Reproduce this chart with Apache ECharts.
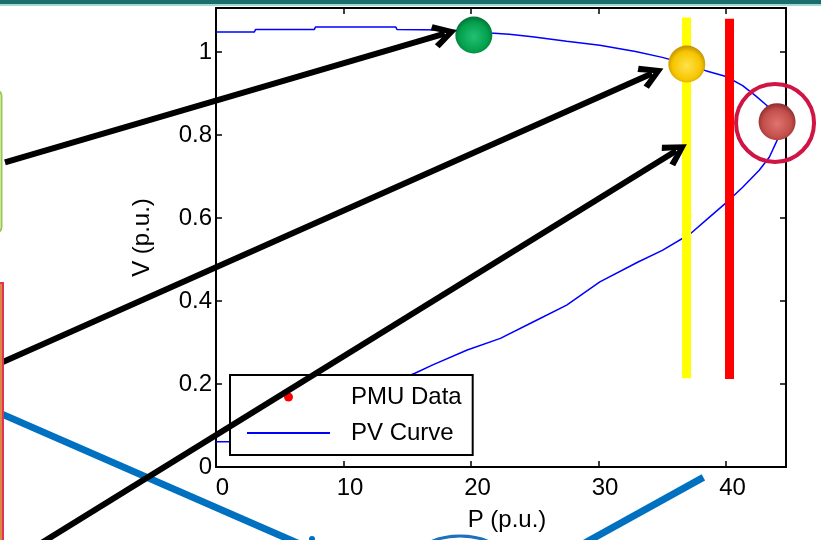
<!DOCTYPE html>
<html>
<head>
<meta charset="utf-8">
<title>PV curve</title>
<script src="https://cdn.jsdelivr.net/npm/echarts@6/dist/echarts.min.js"></script>
<style>
  html, body { margin: 0; padding: 0; background: #fff; }
  #chart { width: 821px; height: 540px; }
</style>
</head>
<body>
<div id="chart"></div>
<script>
// PV curve, walked along the upper branch, round the nose, back down the lower branch
var pvP = [0, 3.0, 3.1, 7.7, 7.8, 14.1, 14.2, 18.0, 20.0, 21.5,
           23.0, 24.8, 27.5, 30.1, 32.9, 35.0, 36.9, 38.4, 40.0, 41.3,
           42.3, 43.2, 43.8, 44.05, 44.0, 43.4, 42.6, 41.3, 40.2, 38.7,
           37.2, 35.0, 33.1, 30.1, 27.5, 24.9, 22.3, 19.7, 17.0, 15.6,
           12.0, 8.0, 4.0, 1.1, 0];
var pvV = [1.048, 1.048, 1.054, 1.054, 1.060, 1.060, 1.054, 1.053, 1.050, 1.046,
           1.043, 1.037, 1.026, 1.016, 1.001, 0.987, 0.971, 0.955, 0.941, 0.919,
           0.895, 0.871, 0.845, 0.81, 0.787, 0.747, 0.715, 0.674, 0.642, 0.602,
           0.562, 0.522, 0.494, 0.446, 0.390, 0.350, 0.310, 0.282, 0.246, 0.226,
           0.18, 0.14, 0.10, 0.061, 0.061];

// PMU data points (the three balls)
var pmuP = [20.22, 36.92, 44.0];
var pmuV = [1.041, 0.971, 0.832];

// axis extents
var xMax = 44.7;
var yMax = 1.106;

// vertical limit bars (yellow, red)
var limitP = [36.9, 40.27];
var limitTop = [1.083, 1.080];
var limitBottom = [0.214, 0.212];

// annotation arrows and stripes, in P / V units
var arrowFrom = [[-16.55, 0.734], [-16.94, 0.250], [-15.37, -0.215]];
var arrowTo = [[17.94, 1.044], [34.19, 0.948], [36.09, 0.762]];
var stripeFrom = [[-17.73, 0.140], [38.22, -0.025]];
var stripeTo = [[6.6, -0.186], [28.16, -0.196]];
var ringP = 43.84;
var ringV = 0.829;

var FONT = 'Liberation Sans';
var chart = echarts.init(document.getElementById('chart'));

function ball(light, mid, dark) {
    return {
        type: 'radial', x: 0.5, y: 0.55, r: 0.55,
        colorStops: [
            { offset: 0, color: light },
            { offset: 0.7, color: mid },
            { offset: 1, color: dark }
        ]
    };
}
var ballColors = [
    ball('#22c173', '#03a04d', '#037037'),
    ball('#ffe24a', '#f6c500', '#c08e00'),
    ball('#df7470', '#c24e4a', '#8a2d2a')
];

var pvData = pvP.map(function (p, i) { return [p, pvV[i]]; });
var pmuData = pmuP.map(function (p, i) {
    return { value: [p, pmuV[i]], itemStyle: { color: ballColors[i], opacity: 1 } };
});
var limitColors = ['#ffff00', '#ff0000'];
var limitSeries = limitP.map(function (p, i) {
    return {
        type: 'line',
        data: [[p, limitTop[i]], [p, limitBottom[i]]],
        symbol: 'none',
        silent: true,
        clip: false,
        z: 3,
        lineStyle: { color: limitColors[i], width: 9, cap: 'butt', opacity: 1 }
    };
});

var chevron = 'path://M11 0 L22 21.5 L17.5 25 L11 11 L4.5 25 L0 21.5 Z';

var axisCommon = {
    type: 'value',
    splitLine: { show: false },
    axisLine: { show: true, onZero: false, lineStyle: { color: '#000', width: 2 } },
    axisTick: { show: true, inside: true, length: 6, lineStyle: { color: '#000', width: 1.5 } }
};

var option = {
    animation: false,
    backgroundColor: '#fff',
    grid: { left: 216, right: 35, top: 8, bottom: 73, outerBoundsMode: 'none' },
    xAxis: [
        Object.assign({}, axisCommon, {
            position: 'bottom', min: 0, max: xMax, interval: 10,
            axisLabel: {
                show: true, showMaxLabel: false, margin: 9, padding: [0, 0, 0, 13],
                fontFamily: FONT, fontSize: 24, color: '#000'
            },
            name: 'P (p.u.)', nameLocation: 'middle', nameGap: 41,
            nameTextStyle: { fontFamily: FONT, fontSize: 24, color: '#000', padding: [0, 0, 0, 12] }
        }),
        Object.assign({}, axisCommon, {
            position: 'top', min: 0, max: xMax, interval: 10,
            axisLabel: { show: false }
        })
    ],
    yAxis: [
        Object.assign({}, axisCommon, {
            position: 'left', min: 0, max: yMax, interval: 0.2,
            axisLabel: {
                show: true, showMaxLabel: false, margin: 4,
                fontFamily: FONT, fontSize: 24, color: '#000'
            },
            name: 'V (p.u.)', nameLocation: 'middle', nameGap: 62,
            nameTextStyle: { fontFamily: FONT, fontSize: 24, color: '#000' }
        }),
        Object.assign({}, axisCommon, {
            position: 'right', min: 0, max: yMax, interval: 0.2,
            axisLabel: { show: false }
        })
    ],
    legend: {
        left: 230, top: 375,
        orient: 'vertical',
        data: [
            { name: 'PMU Data', icon: 'circle', itemStyle: { color: '#ff0000', opacity: 1 } },
            { name: 'PV Curve', itemStyle: { color: 'rgba(0,0,0,0)', borderWidth: 0, opacity: 0 } }
        ],
        itemWidth: 83, itemHeight: 9, itemGap: 12,
        padding: [10, 11, 10, 16],
        backgroundColor: '#fff',
        borderColor: '#000', borderWidth: 2, borderRadius: 0,
        textStyle: { fontFamily: FONT, fontSize: 24, color: '#000', padding: [0, 0, 0, 16] }
    },
    graphic: [
        { type: 'rect', shape: { x: 0, y: 0, width: 821, height: 4 }, style: { fill: '#1c6c6c' }, z: 100 },
        { type: 'rect', shape: { x: 0, y: 4, width: 821, height: 2 }, style: { fill: '#a3d6d6' }, z: 100 },
        { type: 'rect', shape: { x: -40, y: 90, width: 41.5, height: 143, r: 6 },
          style: { fill: '#fff', stroke: '#9bc84f', lineWidth: 2 }, z: 100 },
        { type: 'rect', shape: { x: -40, y: 283, width: 43, height: 300 },
          style: { fill: '#d98a3c', stroke: '#e2315a', lineWidth: 2 }, z: 100 },
        { type: 'ellipse', shape: { cx: 460, cy: 557, rx: 42, ry: 21 },
          style: { fill: 'none', stroke: '#1f6fbf', lineWidth: 3 }, z: 100 },
        { type: 'circle', shape: { cx: 312, cy: 539, r: 3 }, style: { fill: '#0070c0' }, z: 100 }
    ],
    series: [
        {
            name: 'PV Curve',
            type: 'line',
            data: pvData,
            symbol: 'none',
            z: 2,
            lineStyle: { color: '#0000ff', width: 1.5 },
            itemStyle: { color: '#0000ff' }
        },
        {
            name: 'PMU Data',
            type: 'scatter',
            data: pmuData,
            symbol: 'circle',
            symbolSize: 37,
            clip: false,
            z: 6,
            itemStyle: { color: '#ff0000', opacity: 1 }
        }
    ].concat(limitSeries).concat([
        {
            type: 'scatter',
            data: [[ringP, ringV]],
            symbol: 'circle',
            symbolSize: 78,
            clip: false,
            silent: true,
            z: 7,
            itemStyle: { color: 'rgba(0,0,0,0)', borderColor: '#d01545', borderWidth: 4, opacity: 1 }
        },
        {
            type: 'lines',
            coordinateSystem: 'cartesian2d',
            data: stripeFrom.map(function (s, i) { return { coords: [s, stripeTo[i]] }; }),
            clip: false,
            silent: true,
            z: 9,
            symbol: ['none', 'none'],
            lineStyle: { color: '#0070c0', width: 7, opacity: 1, cap: 'butt' }
        },
        {
            type: 'lines',
            coordinateSystem: 'cartesian2d',
            data: arrowFrom.map(function (s, i) { return { coords: [s, arrowTo[i]] }; }),
            clip: false,
            silent: true,
            z: 10,
            symbol: ['none', chevron],
            symbolSize: 25,
            lineStyle: { color: '#000', width: 6, opacity: 1, cap: 'butt' }
        }
    ])
};

chart.setOption(option);
</script>
</body>
</html>
